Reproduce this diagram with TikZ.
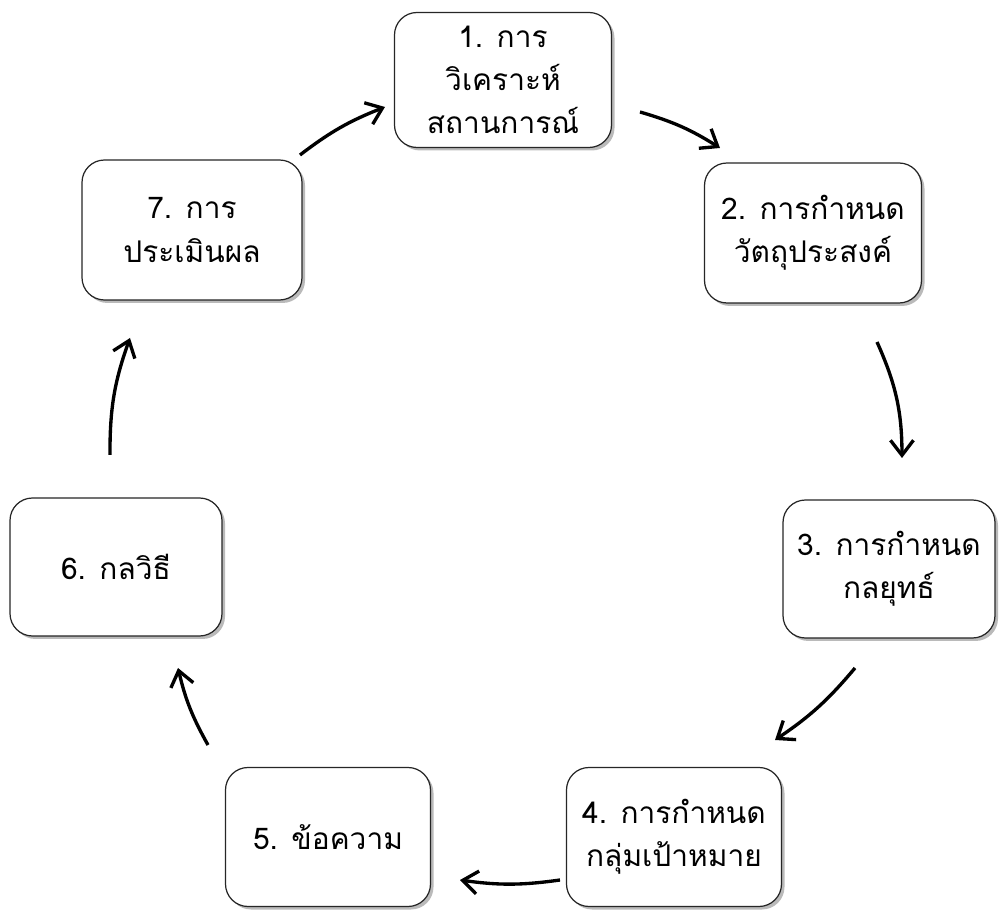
\documentclass[tikz,border=0pt]{standalone}
\usepackage{fontspec}
\newfontfamily\thaifont[Script=Thai]{Loma}
\usetikzlibrary{arrows.meta,shadows}

\begin{document}
\begin{tikzpicture}[
  stage/.style={draw=black!85, line width=0.7pt, rounded corners=0.45cm, fill=white,
    drop shadow={shadow xshift=0.6mm, shadow yshift=-0.6mm, fill=black!45, opacity=0.6},
    align=center, inner sep=0pt, font=\thaifont\fontsize{17}{24.5}\selectfont},
  flow/.style={-{Straight Barb[length=3mm,width=4.6mm]}, line width=1.9pt}
]
\useasboundingbox (0,0) rectangle (20,18.18);

% stage boxes

\node[stage, minimum width=4.34cm, minimum height=2.7cm] (s1) at (10.06,16.58) {1. การ\\วิเคราะห์\\สถานการณ์};
\node[stage, minimum width=4.34cm, minimum height=2.8cm] (s2) at (16.26,13.52) {2. การกำหนด\\วัตถุประสงค์};
\node[stage, minimum width=4.24cm, minimum height=2.76cm] (s3) at (17.78,6.80) {3. การกำหนด\\กลยุทธ์};
\node[stage, minimum width=4.3cm, minimum height=2.78cm] (s4) at (13.48,1.44) {4. การกำหนด\\กลุ่มเป้าหมาย};
\node[stage, minimum width=4.1cm, minimum height=2.78cm] (s5) at (6.56,1.44) {5. ข้อความ};
\node[stage, minimum width=4.24cm, minimum height=2.76cm] (s6) at (2.32,6.84) {6. กลวิธี};
\node[stage, minimum width=4.4cm, minimum height=2.8cm] (s7) at (3.84,13.58) {7. การ\\ประเมินผล};

% arrow ends

\coordinate (a71) at (6.0,15.08);  \coordinate (b71) at (7.7,16.04);
\coordinate (a12) at (12.8,15.94); \coordinate (b12) at (14.4,15.22);
\coordinate (a23) at (17.54,11.34); \coordinate (b23) at (18.04,9.02);
\coordinate (a34) at (17.1,4.82);  \coordinate (b34) at (15.5,3.38);
\coordinate (a45) at (11.2,0.58);  \coordinate (b45) at (9.2,0.58);
\coordinate (a56) at (4.16,3.28);  \coordinate (b56) at (3.56,4.82);
\coordinate (a67) at (2.2,9.08);   \coordinate (b67) at (2.6,11.42);

% cycle arrows

\draw[flow] (a71) to[bend left=8] (b71);
\draw[flow] (a12) to[bend left=8] (b12);
\draw[flow] (a23) to[bend left=12] (b23);
\draw[flow] (a34) to[bend left=8] (b34);
\draw[flow] (a45) to[bend left=8] (b45);
\draw[flow] (a56) to[bend left=8] (b56);
\draw[flow] (a67) to[bend left=10] (b67);

\end{tikzpicture}
\end{document}
